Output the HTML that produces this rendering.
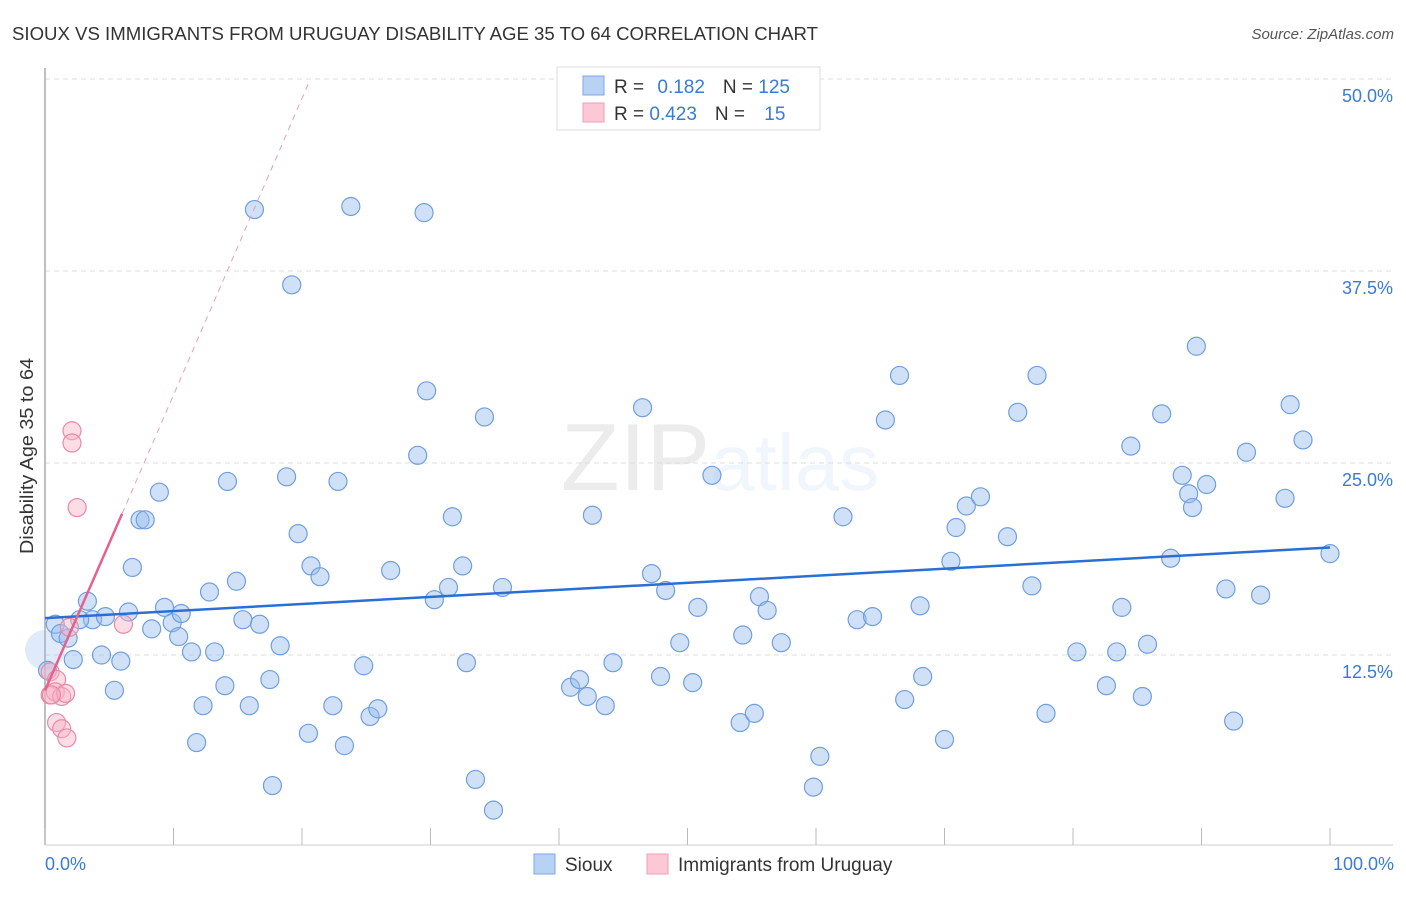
<!DOCTYPE html>
<html><head><meta charset="utf-8"><style>
body{margin:0;background:#fff;font-family:"Liberation Sans",sans-serif}
svg text{font-family:"Liberation Sans",sans-serif}
</style></head><body>
<svg id="chart" width="1406" height="892" viewBox="0 0 1406 892" xmlns="http://www.w3.org/2000/svg">
<text x="12" y="40" font-size="18" fill="#333" textLength="806" lengthAdjust="spacingAndGlyphs">SIOUX VS IMMIGRANTS FROM URUGUAY DISABILITY AGE 35 TO 64 CORRELATION CHART</text>
<text x="1394" y="39" font-size="15" fill="#555" font-style="italic" text-anchor="end">Source: ZipAtlas.com</text>
<text x="720" y="490" font-size="96" text-anchor="middle" fill="#000" opacity="0.07" font-family="Liberation Serif">ZIP<tspan fill="#4a86d8" font-family="Liberation Sans" font-size="80">atlas</tspan></text>
<g id="grid"></g>
<line x1="45" y1="68" x2="45" y2="845" stroke="#aaa" stroke-width="1.5"/>
<line x1="45" y1="845" x2="1393" y2="845" stroke="#ccc" stroke-width="1"/>
<g id="ticks"></g>
<text transform="translate(33,456) rotate(-90)" font-size="18" fill="#333" text-anchor="middle" textLength="196" lengthAdjust="spacingAndGlyphs">Disability Age 35 to 64</text>
<text x="45" y="870" font-size="18" fill="#3a7bd5">0.0%</text>
<text x="1394" y="870" font-size="18" fill="#3a7bd5" text-anchor="end">100.0%</text>
<circle cx="45" cy="650" r="20" fill="rgba(150,188,238,0.3)"/>
<g id="pts"></g>
<g id="lines"></g>
<g>
<rect x="557" y="67" width="263" height="63" fill="#fff" stroke="#ddd"/>
<rect x="583" y="76" width="21" height="19" fill="#b8d2f4" stroke="#7aa8e4"/>
<rect x="583" y="103" width="21" height="19" fill="#fcc8d6" stroke="#eca0b6"/>
<text x="614" y="93" font-size="19" fill="#333">R = <tspan fill="#3a7bd5" dx="8">0.182</tspan><tspan dx="18" fill="#333">N = </tspan><tspan fill="#3a7bd5">125</tspan></text>
<text x="614" y="120" font-size="19" fill="#333">R = <tspan fill="#3a7bd5">0.423</tspan><tspan dx="18" fill="#333">N = </tspan><tspan fill="#3a7bd5" dx="14">15</tspan></text>
</g>
<g>
<rect x="534" y="854" width="21" height="20" fill="#b8d2f4" stroke="#7aa8e4"/>
<text x="565" y="871" font-size="19" fill="#333">Sioux</text>
<rect x="647" y="854" width="21" height="20" fill="#fcc8d6" stroke="#eca0b6"/>
<text x="678" y="871" font-size="19" fill="#333">Immigrants from Uruguay</text>
</g>
</svg>
<script>
const yTicks=[12.5,25,37.5,50];
const yTickLabels=["12.5%","25.0%","37.5%","50.0%"];
const xTicks=[0,10,20,30,40,50,60,70,80,90,100];
const siouxX=[0.8,1.2,1.8,2.2,3.3,3.7,2.7,4.7,4.4,5.9,5.4,6.5,6.8,7.4,7.8,8.9,8.3,9.3,9.9,10.6,10.4,11.4,11.8,12.3,12.8,13.2,14.0,14.2,14.9,15.4,15.9,16.7,16.3,17.5,17.7,18.3,18.8,19.2,19.7,20.5,20.7,21.4,22.4,22.8,23.3,23.8,24.8,25.3,25.9,26.9,29.0,29.5,29.7,30.3,31.4,31.7,32.5,32.8,33.5,34.2,34.9,35.6,40.9,41.6,42.2,42.6,43.6,44.2,46.5,47.2,47.9,48.3,49.4,50.4,50.8,51.9,54.1,54.3,55.2,55.6,56.2,57.3,59.8,60.3,62.1,63.2,64.4,65.4,66.5,66.9,68.1,68.3,70.0,70.5,70.9,71.7,72.8,74.9,75.7,76.8,77.2,77.9,80.3,82.6,83.4,83.8,84.5,85.4,85.8,86.9,87.6,88.5,89.0,89.3,89.6,90.4,91.9,92.5,93.5,94.6,96.5,96.9,97.9,100,0.2];
const siouxY=[14.5,13.9,13.6,12.2,16.0,14.8,14.8,15.0,12.5,12.1,10.2,15.3,18.2,21.3,21.3,23.1,14.2,15.6,14.6,15.2,13.7,12.7,6.8,9.2,16.6,12.7,10.5,23.8,17.3,14.8,9.2,14.5,41.5,10.9,4.0,13.1,24.1,36.6,20.4,7.4,18.3,17.6,9.2,23.8,6.6,41.7,11.8,8.5,9.0,18.0,25.5,41.3,29.7,16.1,16.9,21.5,18.3,12.0,4.4,28.0,2.4,16.9,10.4,10.9,9.8,21.6,9.2,12.0,28.6,17.8,11.1,16.7,13.3,10.7,15.6,24.2,8.1,13.8,8.7,16.3,15.4,13.3,3.9,5.9,21.5,14.8,15.0,27.8,30.7,9.6,15.7,11.1,7.0,18.6,20.8,22.2,22.8,20.2,28.3,17.0,30.7,8.7,12.7,10.5,12.7,15.6,26.1,9.8,13.2,28.2,18.8,24.2,23.0,22.1,32.6,23.6,16.8,8.2,25.7,16.4,22.7,28.8,26.5,19.1,11.5];
const uruX=[2.1,2.1,2.5,1.9,6.1,0.4,0.9,0.4,0.8,1.3,1.6,0.9,1.3,1.7,0.5];
const uruY=[27.1,26.3,22.1,14.3,14.5,11.4,10.9,9.9,10.1,9.8,10.0,8.1,7.7,7.1,9.9];
const blueTrend=[[0,14.9],[100,19.5]];
const pinkSolid=[[0,10.2],[6.0,21.7]];
const pinkDash=[[6.0,21.7],[20.6,49.9]];
const NS="http://www.w3.org/2000/svg";
const sx=v=>45+v*12.85, sy=v=>847-v*15.36;
function mk(t,a,p){const e=document.createElementNS(NS,t);for(const k in a)e.setAttribute(k,a[k]);p.appendChild(e);return e;}
const grid=document.getElementById('grid');
yTicks.forEach((t,i)=>{
 const l=mk('line',{x1:45,x2:1393,y1:sy(t),y2:sy(t),stroke:'#ddd','stroke-dasharray':'5,4'},grid);
 
 
 const tx=mk('text',{x:1393,y:sy(t)+23,'font-size':18,fill:'#3a7bd5','text-anchor':'end'},grid);
 tx.textContent=yTickLabels[i];
 
 
});
const ticks=document.getElementById('ticks');
xTicks.forEach(t=>{
 const l=mk('line',{x1:sx(t),x2:sx(t),y1:828,y2:845,stroke:'#bbb'},ticks);
 
 
});
const pts=document.getElementById('pts');
siouxX.forEach((x,i)=>{
 const c=mk('circle',{cx:sx(x),cy:sy(siouxY[i]),r:9,fill:'rgba(150,188,238,0.45)',stroke:'#6f9fe0','stroke-width':1.2},pts);
 
 
});
uruX.forEach((x,i)=>{
 const c=mk('circle',{cx:sx(x),cy:sy(uruY[i]),r:9,fill:'rgba(248,180,200,0.45)',stroke:'#e88aa8','stroke-width':1.2},pts);
 
 
});
const lines=document.getElementById('lines');
function ln(p,st,w,d,name){const l=mk('line',{x1:sx(p[0][0]),y1:sy(p[0][1]),x2:sx(p[1][0]),y2:sy(p[1][1]),stroke:st,'stroke-width':w},lines);if(d)l.setAttribute('stroke-dasharray',d);
 
 }
ln(blueTrend,'#2a6fd6',2.5,null,'sioux-trendline');
ln(pinkSolid,'#e4628c',2.5,null,'uruguay-trendline');
ln(pinkDash,'#e8a0b8',1,'6,5','uruguay-trendline-extension');
</script>
</body></html>
